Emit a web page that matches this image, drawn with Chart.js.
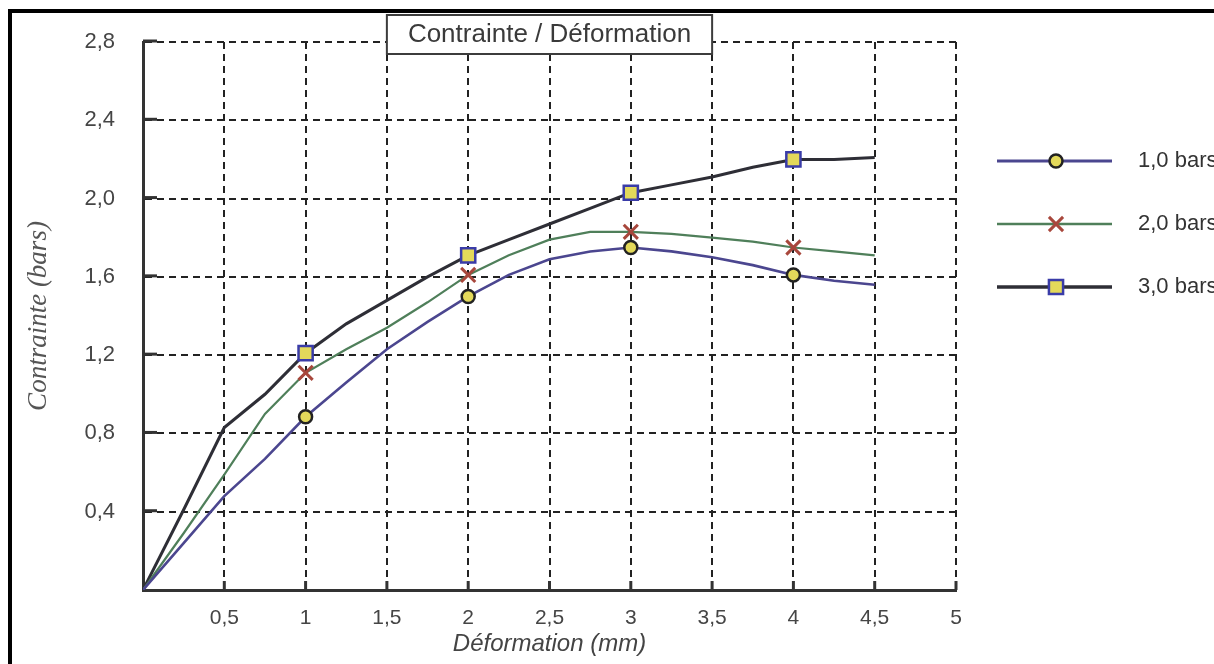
<!DOCTYPE html>
<html>
<head>
<meta charset="utf-8">
<script src="https://cdn.jsdelivr.net/npm/chart.js@4/dist/chart.umd.min.js"></script>
<style>
  html, body { margin: 0; padding: 0; background: #ffffff; }
  #wrap { width: 1214px; height: 664px; position: relative; background: #ffffff; }
</style>
</head>
<body>
<div id="wrap"><canvas id="c" width="1214" height="664"></canvas></div>
<script>
// ---------- data ----------
const chartTitle = 'Contrainte / Déformation';
const xAxisTitle = 'Déformation (mm)';
const yAxisTitle = 'Contrainte (bars)';
const seriesLabels = ['1,0 bars', '2,0 bars', '3,0 bars'];
const xValues = [0, 0.25, 0.5, 0.75, 1, 1.25, 1.5, 1.75, 2, 2.25, 2.5, 2.75, 3, 3.25, 3.5, 3.75, 4, 4.25, 4.5];
const series1 = [0, 0.24, 0.48, 0.67, 0.885, 1.06, 1.23, 1.37, 1.50, 1.61, 1.69, 1.73, 1.75, 1.73, 1.70, 1.66, 1.61, 1.58, 1.56];
const series2 = [0, 0.29, 0.59, 0.90, 1.11, 1.23, 1.34, 1.47, 1.61, 1.71, 1.79, 1.83, 1.83, 1.82, 1.80, 1.78, 1.75, 1.73, 1.71];
const series3 = [0, 0.41, 0.83, 1.00, 1.21, 1.36, 1.48, 1.60, 1.71, 1.79, 1.87, 1.95, 2.03, 2.07, 2.11, 2.16, 2.20, 2.20, 2.21];
const markerX = [1, 2, 3, 4];
const xTickLabels = ['', '0,5', '1', '1,5', '2', '2,5', '3', '3,5', '4', '4,5', '5'];
const yTickLabels = ['', '0,4', '0,8', '1,2', '1,6', '2,0', '2,4', '2,8'];

// ---------- styles ----------
const styles = [
  { line: '#4b468f', width: 2.6, pointStyle: 'circle', radius: 6.5, border: '#222222', fill: '#e3d95a', bw: 2.5 },
  { line: '#4f7f5a', width: 2.2, pointStyle: 'crossRot', radius: 10, border: '#a8473c', fill: '#a8473c', bw: 3 },
  { line: '#2e2e36', width: 3, pointStyle: 'rect', radius: 10, border: '#3a3ca8', fill: '#e3d95a', bw: 2.5 }
];
const seriesValues = [series1, series2, series3];

function legendIcon(st) {
  const cv = document.createElement('canvas');
  cv.width = 130; cv.height = 26;
  const ctx = cv.getContext('2d');
  ctx.strokeStyle = st.line; ctx.lineWidth = st.width + 0.5;
  ctx.beginPath(); ctx.moveTo(0, 13); ctx.lineTo(115, 13); ctx.stroke();
  ctx.fillStyle = st.fill; ctx.strokeStyle = st.border; ctx.lineWidth = st.bw;
  Chart.helpers.drawPoint(ctx, { pointStyle: st.pointStyle, radius: st.radius, rotation: 0, borderWidth: st.bw }, 59, 13);
  return cv;
}

const datasets = seriesValues.map((vals, i) => {
  const st = styles[i];
  const radii = xValues.map(x => markerX.includes(x) ? st.radius : 0);
  return {
    label: seriesLabels[i],
    data: xValues.map((x, k) => ({ x: x, y: vals[k] })),
    borderColor: st.line,
    borderWidth: st.width,
    backgroundColor: st.fill,
    pointStyle: st.pointStyle,
    pointRadius: radii,
    pointHoverRadius: radii,
    pointBackgroundColor: st.fill,
    pointBorderColor: st.border,
    pointBorderWidth: st.bw,
    tension: 0,
    fill: false
  };
});
const icons = styles.map(legendIcon);

const decor = {
  id: 'decor',
  beforeDraw(chart) {
    const ctx = chart.ctx;
    ctx.save();
    ctx.fillStyle = '#000000';
    ctx.fillRect(8, 9, 4, 660);
    ctx.fillRect(8, 9, 1210, 4);
    ctx.restore();
    const tb = chart.titleBlock;
    if (tb && !tb._boxed) {
      const orig = tb.draw;
      tb.draw = function () {
        const c = this.ctx;
        const area = chart.chartArea;
        const cx = (area.left + area.right) / 2;
        c.save();
        c.font = '26px "Liberation Sans", Arial, sans-serif';
        const w = c.measureText(chartTitle).width + 42;
        const x0 = cx - w / 2, y0 = area.top - 27, h = 39;
        c.fillStyle = '#ffffff';
        c.fillRect(x0, y0, w, h);
        c.strokeStyle = '#3c3c3c'; c.lineWidth = 2;
        c.strokeRect(x0, y0, w, h);
        c.restore();
        return orig.apply(this, arguments);
      };
      tb._boxed = true;
    }
  },
  beforeDatasetsDraw(chart) {
    const ctx = chart.ctx;
    const xs = chart.scales.x, ys = chart.scales.y;
    const area = chart.chartArea;
    ctx.save();
    ctx.strokeStyle = '#333333';
    ctx.lineWidth = 3;
    ys.ticks.forEach(t => {
      if (t.value === 0) return;
      const p = ys.getPixelForValue(t.value);
      ctx.beginPath(); ctx.moveTo(area.left, p - 1); ctx.lineTo(area.left + 14, p - 1); ctx.stroke();
    });
    xs.ticks.forEach(t => {
      if (t.value === 0) return;
      const p = xs.getPixelForValue(t.value);
      ctx.beginPath(); ctx.moveTo(p, area.bottom); ctx.lineTo(p, area.bottom - 9); ctx.stroke();
    });
    ctx.restore();
  }
};

new Chart(document.getElementById('c'), {
  type: 'line',
  data: { datasets: datasets },
  plugins: [decor],
  options: {
    responsive: false,
    animation: false,
    events: [],
    layout: { padding: 0 },
    plugins: {
      tooltip: { enabled: false },
      title: {
        display: true,
        fullSize: false,
        text: chartTitle,
        color: '#3a3a3a',
        font: { family: '"Liberation Sans", Arial, sans-serif', size: 26, weight: 'normal' },
        padding: { top: 19, bottom: -8.2 }
      },
      legend: {
        display: true,
        position: 'right',
        align: 'start',
        fullSize: false,
        maxWidth: 258,
        title: { display: true, text: ' ', color: 'rgba(0,0,0,0)', font: { size: 10 }, padding: { top: 0, bottom: 55 } },
        labels: {
          usePointStyle: true,
          pointStyleWidth: 130,
          padding: 41,
          color: '#333333',
          font: { family: '"Liberation Sans", Arial, sans-serif', size: 22 },
          generateLabels(chart) {
            return chart.data.datasets.map((ds, i) => ({
              text: ds.label,
              pointStyle: icons[i],
              fillStyle: 'rgba(0,0,0,0)',
              strokeStyle: 'rgba(0,0,0,0)',
              lineWidth: 0,
              hidden: false,
              datasetIndex: i,
              fontColor: '#333333'
            }));
          }
        }
      }
    },
    scales: {
      x: {
        type: 'linear',
        min: 0, max: 5,
        afterFit(s) { s.height = 74; },
        ticks: {
          stepSize: 0.5,
          autoSkip: false,
          maxRotation: 0,
          padding: 16,
          color: '#454545',
          font: { family: '"Liberation Sans", Arial, sans-serif', size: 21 },
          callback: (v, i) => xTickLabels[i]
        },
        grid: { color: '#222222', lineWidth: 2, drawTicks: false, z: -1 },
        border: { display: true, color: '#333333', width: 3, dash: [7, 5] },
        title: {
          display: true,
          text: xAxisTitle,
          color: '#444444',
          font: { family: '"Liberation Sans", Arial, sans-serif', size: 24, style: 'italic' },
          padding: { top: 0, bottom: 5 }
        }
      },
      y: {
        type: 'linear',
        min: 0, max: 2.8,
        afterFit(s) { s.width = 143; },
        ticks: {
          stepSize: 0.4,
          autoSkip: false,
          padding: 28,
          color: '#454545',
          font: { family: '"Liberation Sans", Arial, sans-serif', size: 22 },
          callback: (v, i) => yTickLabels[i]
        },
        grid: { color: '#222222', lineWidth: 2, drawTicks: false, z: -1 },
        border: { display: true, color: '#333333', width: 3, dash: [7, 5] },
        title: {
          display: true,
          text: yAxisTitle,
          color: '#555555',
          font: { family: '"Liberation Serif", "Times New Roman", serif', size: 27, style: 'italic' },
          padding: { top: 23, bottom: 10 }
        }
      }
    }
  }
});
</script>
</body>
</html>
